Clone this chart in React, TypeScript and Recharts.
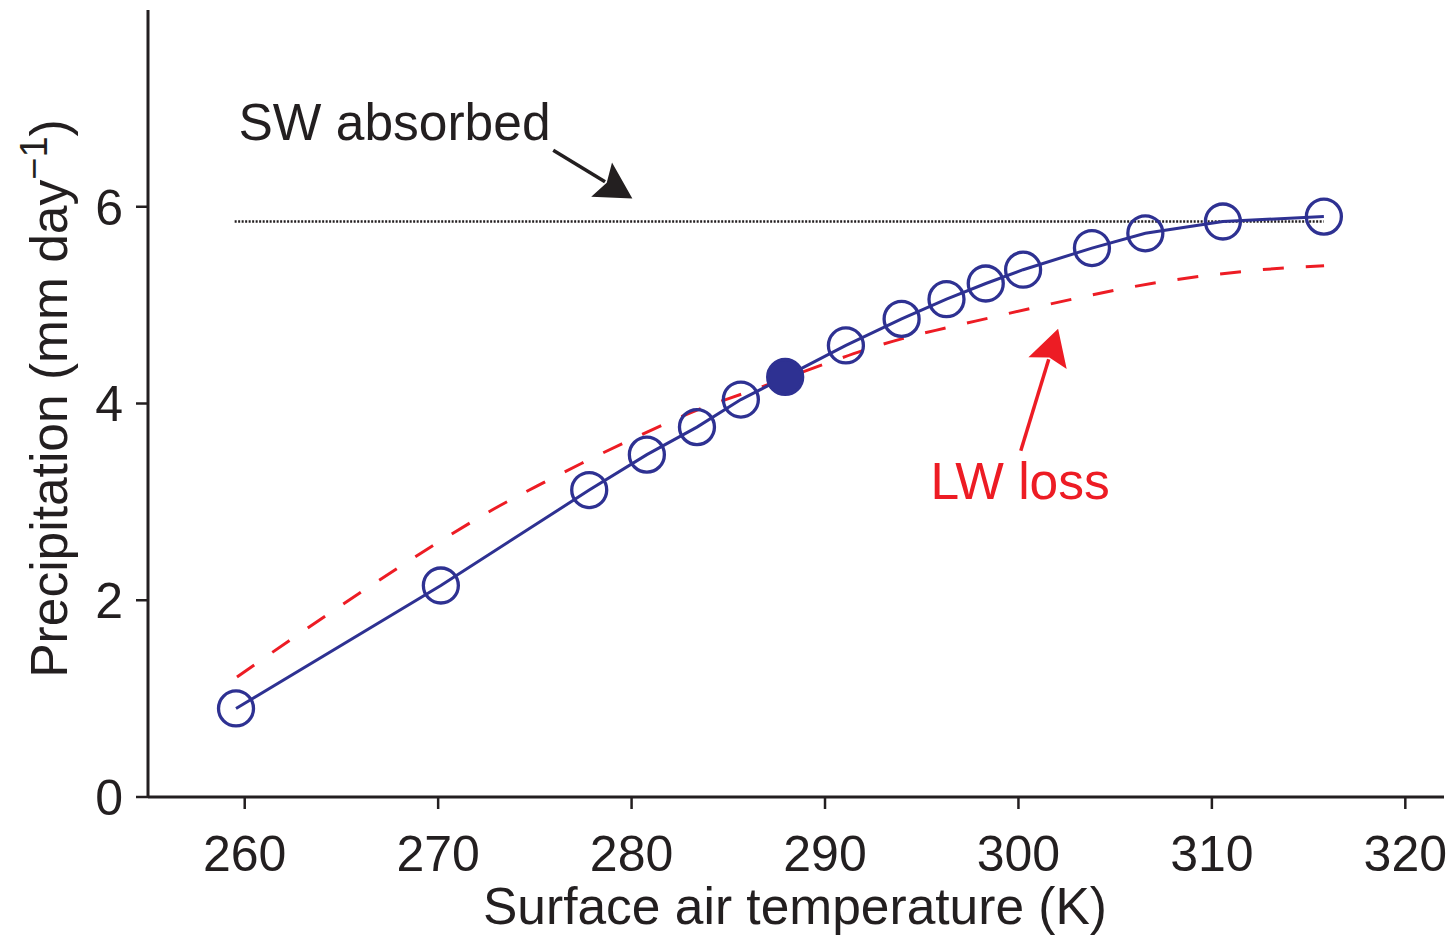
import React from 'react';
import { ComposedChart, Line, XAxis, YAxis, ReferenceLine, ReferenceDot } from 'recharts';

// Model runs (surface air temperature K, precipitation mm/day)
const TEMPERATURE = [259.55, 270.14, 277.81, 280.79, 283.38, 285.65, 287.94, 291.08, 293.96, 296.28, 298.31, 300.24, 303.8, 306.56, 310.57, 315.79];
const PRECIPITATION = [0.9, 2.15, 3.12, 3.48, 3.76, 4.04, 4.27, 4.59, 4.86, 5.06, 5.22, 5.36, 5.58, 5.73, 5.85, 5.9];
const CONTROL_TEMPERATURE = 287.94;

// LW loss curve (red dashed)
const LW_TEMPERATURE = [259.6, 265.0, 270.1, 272.9, 275.4, 277.4, 279.5, 281.6, 283.6, 285.9, 288.0, 290.1, 292.3, 294.0, 296.3, 298.5, 300.7, 303.0, 305.2, 307.5, 309.7, 312.0, 315.8];
const LW_PRECIP = [1.22, 1.95, 2.6, 2.93, 3.19, 3.39, 3.59, 3.78, 3.95, 4.11, 4.26, 4.41, 4.56, 4.66, 4.77, 4.87, 4.97, 5.07, 5.16, 5.24, 5.3, 5.35, 5.4];

// SW absorbed (black dotted)
const SW_TEMPERATURE = [259.48, 315.78];
const SW_PRECIP = [5.85, 5.85];

const X_TICKS = [260, 270, 280, 290, 300, 310, 320];
const Y_TICKS = [0, 2, 4, 6];

const BLUE = '#2e3192';
const RED = '#ed1c24';
const INK = '#231f20';
const FONT = '"Liberation Sans", Arial, Helvetica, sans-serif';

const blueData = TEMPERATURE.map((t, i) => ({ t, p: PRECIPITATION[i] }));
const lwData = LW_TEMPERATURE.map((t, i) => ({ t, p: LW_PRECIP[i] }));
const swData = SW_TEMPERATURE.map((t, i) => ({ t, p: SW_PRECIP[i] }));

const makeArrow = (color: string) => (props: any) => {
  const { x1, y1, x2, y2 } = props;
  const dx = x2 - x1;
  const dy = y2 - y1;
  const len = Math.hypot(dx, dy) || 1;
  const ux = dx / len;
  const uy = dy / len;
  const hl = 36;
  const hw = 20;
  const bx = x2 - ux * hl;
  const by = y2 - uy * hl;
  const px = -uy;
  const py = ux;
  return (
    <g>
      <line x1={x1} y1={y1} x2={bx + ux * 4} y2={by + uy * 4} stroke={color} strokeWidth={3.5} />
      <polygon
        points={`${x2},${y2} ${bx + px * hw},${by + py * hw} ${bx + ux * 6},${by + uy * 6} ${bx - px * hw},${by - py * hw}`}
        fill={color}
      />
    </g>
  );
};

const XTitle = (props: any) => {
  const vb = props.viewBox || { x: 148, y: 797, width: 1296, height: 138 };
  return (
    <text x={vb.x + vb.width / 2 - 1} y={vb.y + 127} textAnchor="middle" fill={INK} fontSize={51.5} fontFamily={FONT}>
      Surface air temperature (K)
    </text>
  );
};

const YTitle = (props: any) => {
  const vb = props.viewBox || { x: 0, y: 10, width: 148, height: 787 };
  const cx = vb.x + 67;
  const cy = vb.y + vb.height / 2 - 5;
  return (
    <text
      x={cx}
      y={cy}
      transform={`rotate(-90, ${cx}, ${cy})`}
      textAnchor="middle"
      fill={INK}
      fontSize={51.5}
      fontFamily={FONT}
    >
      <tspan>Precipitation (mm day</tspan>
      <tspan dy={-20} fontSize={38}>−1</tspan>
      <tspan dy={20}>)</tspan>
    </text>
  );
};

const renderDot = (props: any) => {
  const { cx, cy, payload, index } = props;
  const filled = payload && payload.t === CONTROL_TEMPERATURE;
  return (
    <circle
      key={`dot-${index}`}
      cx={cx}
      cy={cy}
      r={17.5}
      fill={filled ? BLUE : 'none'}
      stroke={BLUE}
      strokeWidth={3.3}
    />
  );
};

export default function App() {
  return (
    <div style={{ position: 'absolute', left: 0, top: 0, background: '#fff' }}>
      <ComposedChart width={1454} height={935} margin={{ top: 10, right: 10, bottom: 0, left: 0 }}>
        <XAxis
          type="number"
          dataKey="t"
          domain={[255, 322]}
          ticks={X_TICKS}
          allowDataOverflow
          height={138}
          axisLine={{ stroke: INK, strokeWidth: 3 }}
          tickLine={{ stroke: INK, strokeWidth: 2.5 }}
          tickSize={12}
          tickMargin={26}
          tick={{ fill: INK, fontSize: 50, fontFamily: FONT }}
          label={<XTitle />}
        />
        <YAxis
          type="number"
          dataKey="p"
          domain={[0, 8]}
          ticks={Y_TICKS}
          allowDataOverflow
          width={148}
          axisLine={{ stroke: INK, strokeWidth: 3 }}
          tickLine={{ stroke: INK, strokeWidth: 2.5 }}
          tickSize={12}
          tickMargin={13}
          tick={{ fill: INK, fontSize: 50, fontFamily: FONT }}
          label={<YTitle />}
        />
        <Line
          data={swData}
          dataKey="p"
          type="linear"
          stroke={INK}
          strokeWidth={2.4}
          strokeDasharray="2 1.5"
          dot={false}
          activeDot={false}
          isAnimationActive={false}
        />
        <Line
          data={lwData}
          dataKey="p"
          type="monotone"
          stroke={RED}
          strokeWidth={3}
          strokeDasharray="21 22"
          dot={false}
          activeDot={false}
          isAnimationActive={false}
        />
        <Line
          data={blueData}
          dataKey="p"
          type="linear"
          stroke={BLUE}
          strokeWidth={3}
          dot={renderDot}
          activeDot={false}
          isAnimationActive={false}
        />
        <ReferenceLine
          segment={[{ x: 275.95, y: 6.575 }, { x: 280.04, y: 6.085 }]}
          shape={makeArrow(INK)}
        />
        <ReferenceLine
          segment={[{ x: 300.12, y: 3.52 }, { x: 302.05, y: 4.76 }]}
          shape={makeArrow(RED)}
        />
        <ReferenceDot
          x={259.68}
          y={6.677}
          r={0}
          shape={(p: any) => (
            <text x={p.cx} y={p.cy} fill={INK} fontSize={51.5} fontFamily={FONT}>
              SW absorbed
            </text>
          )}
        />
        <ReferenceDot
          x={295.45}
          y={3.034}
          r={0}
          shape={(p: any) => (
            <text x={p.cx} y={p.cy} fill={RED} fontSize={51.5} fontFamily={FONT}>
              LW loss
            </text>
          )}
        />
      </ComposedChart>
    </div>
  );
}
